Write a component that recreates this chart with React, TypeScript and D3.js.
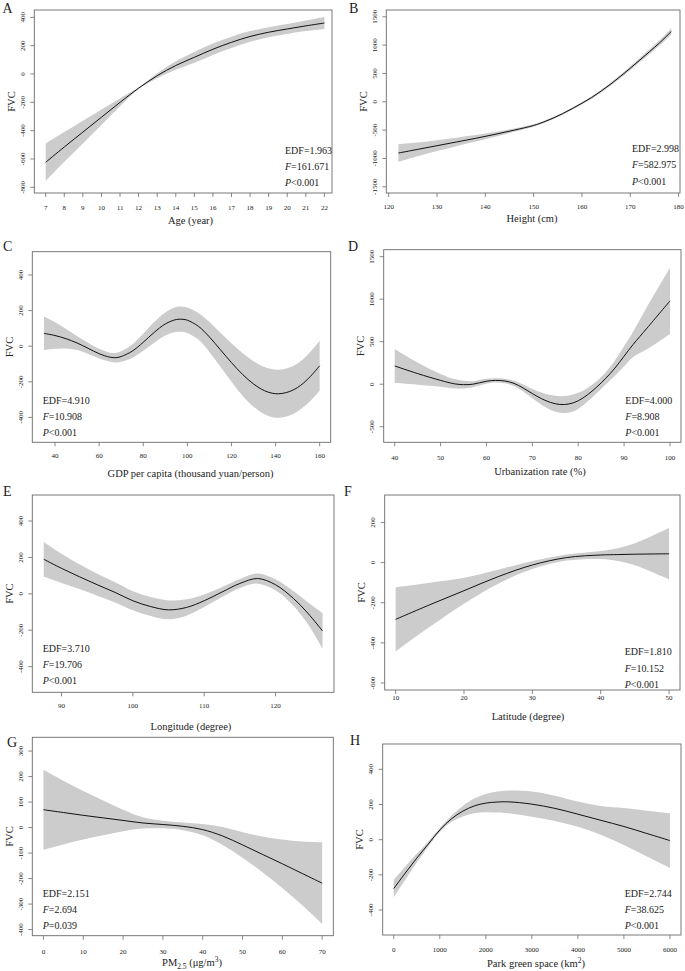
import React from "react";
import * as d3 from "d3";

const FONT = "'Liberation Serif', 'Times New Roman', Times, serif";

// ---------- Panel A: Age ----------
const ageX = [7, 8, 9, 10, 11, 12, 13, 14, 15, 16, 17, 18, 19, 20, 21, 22];
const ageFit = [-623, -515, -410, -305, -200, -100, -12, 60, 118, 175, 224, 265, 295, 318, 340, 360];
const ageSe = [132, 105, 80, 55, 28, 6, 18, 30, 38, 40, 40, 38, 36, 35, 37, 42];
const ageXTicks = [7, 8, 9, 10, 11, 12, 13, 14, 15, 16, 17, 18, 19, 20, 21, 22];
const ageYTicks = [-800, -600, -400, -200, 0, 200, 400];

// ---------- Panel B: Height ----------
const heightX = [122, 126, 130, 134, 138, 142, 146, 150, 152, 154, 156, 158, 160, 162, 164, 166, 168, 170, 172, 174, 176, 178.5];
const heightFit = [-905, -840, -775, -710, -645, -575, -500, -418, -360, -290, -210, -120, -25, 75, 190, 315, 450, 592, 738, 885, 1035, 1240];
const heightSe = [155, 120, 95, 75, 57, 42, 30, 22, 21, 20, 20, 20, 22, 24, 26, 28, 31, 35, 38, 42, 47, 55];
const heightXTicks = [120, 130, 140, 150, 160, 170, 180];
const heightYTicks = [-1500, -1000, -500, 0, 500, 1000, 1500];

// ---------- Panel C: GDP ----------
const gdpX = [35, 40, 45, 50, 55, 60, 65, 68, 70, 75, 80, 85, 90, 95, 98, 100, 105, 110, 115, 120, 125, 130, 135, 140, 145, 150, 155, 160];
const gdpFit = [72, 60, 42, 18, -12, -42, -62, -64, -58, -28, 22, 78, 125, 150, 151, 146, 112, 52, -20, -92, -158, -212, -250, -267, -260, -232, -180, -110];
const gdpSe = [95, 75, 55, 40, 32, 27, 25, 27, 30, 38, 48, 58, 65, 70, 71, 72, 75, 85, 95, 108, 120, 128, 133, 135, 135, 135, 137, 140];
const gdpXTicks = [40, 60, 80, 100, 120, 140, 160];
const gdpYTicks = [-400, -200, 0, 200, 400];

// ---------- Panel D: Urbanization ----------
const urbX = [40, 45, 50, 53, 55, 57, 60, 62, 64, 66, 68, 70, 72, 74, 76, 78, 80, 82, 84, 86, 88, 90, 92, 95, 100];
const urbFit = [215, 125, 45, 5, -5, 0, 35, 45, 38, 10, -45, -110, -170, -215, -238, -232, -195, -125, -35, 70, 190, 330, 470, 660, 980];
const urbSe = [200, 130, 75, 55, 45, 36, 28, 25, 27, 32, 42, 55, 72, 88, 97, 100, 95, 82, 70, 72, 90, 120, 150, 250, 390];
const urbXTicks = [40, 50, 60, 70, 80, 90, 100];
const urbYTicks = [-500, 0, 500, 1000, 1500];

// ---------- Panel E: Longitude ----------
const lonX = [87.5, 90, 92.5, 95, 97.5, 100, 102.5, 105, 107.5, 110, 112.5, 115, 117.5, 120, 122.5, 124.5, 126.6];
const lonFit = [190, 140, 94, 50, 8, -38, -70, -88, -75, -38, 10, 57, 84, 50, -25, -105, -204];
const lonSe = [95, 80, 68, 60, 55, 52, 52, 52, 45, 35, 28, 25, 28, 30, 40, 60, 98];
const lonXTicks = [90, 100, 110, 120];
const lonYTicks = [-400, -200, 0, 200, 400];

// ---------- Panel F: Latitude ----------
const latX = [10, 15, 20, 25, 30, 35, 40, 42.5, 45, 47.5, 50];
const latFit = [-283, -210, -140, -70, -12, 25, 38, 40, 42, 43, 44];
const latSe = [160, 110, 65, 35, 20, 15, 20, 32, 55, 90, 128];
const latXTicks = [10, 20, 30, 40, 50];
const latYTicks = [-600, -400, -200, 0, 200];

// ---------- Panel G: PM2.5 ----------
const pmX = [0, 5, 10, 15, 20, 25, 30, 35, 40, 45, 50, 55, 60, 65, 70];
const pmFit = [70, 59, 48, 38, 28, 18, 12, 5, -8, -33, -68, -105, -142, -180, -218];
const pmSe = [157, 125, 95, 68, 42, 22, 15, 15, 22, 35, 50, 70, 95, 125, 160];
const pmXTicks = [0, 10, 20, 30, 40, 50, 60, 70];
const pmYTicks = [-400, -300, -200, -100, 0, 100, 200, 300];

// ---------- Panel H: Park green space ----------
const parkX = [0, 250, 500, 750, 1000, 1250, 1500, 1750, 2000, 2250, 2500, 3000, 3500, 4000, 4500, 5000, 5500, 6000];
const parkFit = [-278, -190, -105, -25, 55, 118, 162, 192, 208, 214, 215, 202, 178, 145, 110, 75, 35, -5];
const parkSe = [50, 38, 25, 15, 12, 18, 30, 42, 52, 60, 65, 72, 72, 72, 82, 105, 130, 155];
const parkXTicks = [0, 1000, 2000, 3000, 4000, 5000, 6000];
const parkYTicks = [-400, -200, 0, 200, 400];

// ---------- Labels / statistics ----------
const panelLetters = ["A", "B", "C", "D", "E", "F", "G", "H"];
const edfValues = ["1.963", "2.998", "4.910", "4.000", "3.710", "1.810", "2.151", "2.744"];
const fValues = ["161.671", "582.975", "10.908", "8.908", "19.706", "10.152", "2.694", "38.625"];
const pValues = ["<0.001", "<0.001", "<0.001", "<0.001", "<0.001", "<0.001", "=0.039", "<0.001"];
type Seg = { t: string; s?: "sub" | "sup" };
const xTitles: Seg[][] = [
  [{ t: "Age (year)" }],
  [{ t: "Height (cm)" }],
  [{ t: "GDP per capita (thousand yuan/person)" }],
  [{ t: "Urbanization rate (%)" }],
  [{ t: "Longitude (degree)" }],
  [{ t: "Latitude (degree)" }],
  [{ t: "PM" }, { t: "2.5", s: "sub" }, { t: " (μg/m" }, { t: "3", s: "sup" }, { t: ")" }],
  [{ t: "Park green space (km" }, { t: "2", s: "sup" }, { t: ")" }],
];
const yTitle = "FVC";

const seriesX = [ageX, heightX, gdpX, urbX, lonX, latX, pmX, parkX];
const seriesFit = [ageFit, heightFit, gdpFit, urbFit, lonFit, latFit, pmFit, parkFit];
const seriesSe = [ageSe, heightSe, gdpSe, urbSe, lonSe, latSe, pmSe, parkSe];
const xTickSets = [ageXTicks, heightXTicks, gdpXTicks, urbXTicks, lonXTicks, latXTicks, pmXTicks, parkXTicks];
const yTickSets = [ageYTicks, heightYTicks, gdpYTicks, urbYTicks, lonYTicks, latYTicks, pmYTicks, parkYTicks];

// ---------- Layout (positions only) ----------
const layout = [
  { L: 34.3, R: 332, T: 10, B: 193, xDom: [6.386, 22.41], yDom: [-840, 452], lx: 2.5, ly: 13, tx: 190.5, tickY: 210, titleY: 224, sx: 285, sy: 153.5 },
  { L: 386.3, R: 680, T: 10, B: 193, xDom: [119.5, 180.3], yDom: [-1610, 1620], lx: 349, ly: 13, tx: 532, tickY: 208.6, titleY: 222, sx: 632, sy: 152 },
  { L: 32.3, R: 330.7, T: 251.7, B: 442.3, xDom: [29.7, 165], yDom: [-540, 531], lx: 3, ly: 251, tx: 190.5, tickY: 458.3, titleY: 476.5, sx: 42.7, sy: 403.5 },
  { L: 383.7, R: 681, T: 249.7, B: 442.3, xDom: [37.6, 102.4], yDom: [-683, 1582], lx: 348, ly: 251, tx: 540, tickY: 460, titleY: 474.5, sx: 625.3, sy: 403.5 },
  { L: 32.3, R: 334, T: 495, B: 692.3, xDom: [85.9, 128.2], yDom: [-541, 543], lx: 3, ly: 496, tx: 191, tickY: 708, titleY: 730, sx: 42.7, sy: 651.8 },
  { L: 384.7, R: 680, T: 495, B: 690, xDom: [8.4, 51.6], yDom: [-635, 337], lx: 344, ly: 496, tx: 528, tickY: 700, titleY: 720, sx: 624.7, sy: 655.2 },
  { L: 32.3, R: 333.3, T: 737.3, B: 935.7, xDom: [-2.8, 72.8], yDom: [-424, 354], lx: 7, ly: 747, tx: 192, tickY: 954, titleY: 966, sx: 42.7, sy: 896.8 },
  { L: 382.7, R: 681, T: 744, B: 935, xDom: [-240, 6240], yDom: [-542, 544], lx: 350, ly: 745, tx: 536, tickY: 951.5, titleY: 967, sx: 624.7, sy: 896.8 },
];

const BOX = "#6a6a6a";
const TEXT = "#222";

function TitleText({ segs, x, y }: { segs: Seg[]; x: number; y: number }) {
  let cur = 0;
  const spans = segs.map((sg, i) => {
    const target = sg.s === "sub" ? 3 : sg.s === "sup" ? -4 : 0;
    const dy = target - cur;
    cur = target;
    return (
      <tspan key={i} dy={dy} fontSize={sg.s ? 7.5 : 10.5}>
        {sg.t}
      </tspan>
    );
  });
  return (
    <text x={x} y={y} textAnchor="middle" fontFamily={FONT} fontSize={10.5} fill={TEXT}>
      {spans}
    </text>
  );
}

function Panel({ i }: { i: number }) {
  const lay = layout[i];
  const xs = seriesX[i];
  const fit = seriesFit[i];
  const se = seriesSe[i];
  const x = d3.scaleLinear().domain(lay.xDom).range([lay.L, lay.R]);
  const y = d3.scaleLinear().domain(lay.yDom).range([lay.B, lay.T]);
  const pts = xs.map((v, k) => ({ x: v, f: fit[k], s: se[k] }));
  const area = d3
    .area<any>()
    .x((d) => x(d.x))
    .y0((d) => y(d.f - d.s))
    .y1((d) => y(d.f + d.s))
    .curve(d3.curveCatmullRom.alpha(0.5));
  const line = d3
    .line<any>()
    .x((d) => x(d.x))
    .y((d) => y(d.f))
    .curve(d3.curveCatmullRom.alpha(0.5));
  const clipId = `clip-${i}`;
  const midY = (lay.T + lay.B) / 2;
  return (
    <g>
      <defs>
        <clipPath id={clipId}>
          <rect x={lay.L} y={lay.T} width={lay.R - lay.L} height={lay.B - lay.T} />
        </clipPath>
      </defs>
      <g clipPath={`url(#${clipId})`}>
        <path d={area(pts) || ""} fill="#cccccc" stroke="none" />
        <path d={line(pts) || ""} fill="none" stroke="#111" strokeWidth={1} />
      </g>
      <rect x={lay.L} y={lay.T} width={lay.R - lay.L} height={lay.B - lay.T} fill="none" stroke={BOX} strokeWidth={0.9} />
      {yTickSets[i].map((t) => (
        <g key={"y" + t}>
          <line x1={lay.L} x2={lay.L - 4} y1={y(t)} y2={y(t)} stroke={BOX} strokeWidth={0.8} />
          <text
            transform={`translate(${lay.L - 11.5},${y(t)}) rotate(-90)`}
            textAnchor="middle"
            dominantBaseline="central"
            fontFamily={FONT}
            fontSize={7}
            fill={TEXT}
          >
            {t}
          </text>
        </g>
      ))}
      {xTickSets[i].map((t) => (
        <g key={"x" + t}>
          <line x1={x(t)} x2={x(t)} y1={lay.B} y2={lay.B + 4} stroke={BOX} strokeWidth={0.8} />
          <text x={x(t)} y={lay.tickY} textAnchor="middle" fontFamily={FONT} fontSize={7} fill={TEXT}>
            {t}
          </text>
        </g>
      ))}
      <TitleText segs={xTitles[i]} x={lay.tx} y={lay.titleY} />
      <text
        transform={`translate(${lay.L - 23},${midY}) rotate(-90)`}
        textAnchor="middle"
        dominantBaseline="central"
        fontFamily={FONT}
        fontSize={10.5}
        fill={TEXT}
      >
        {yTitle}
      </text>
      <text x={lay.lx} y={lay.ly} fontFamily={FONT} fontSize={14} fill={TEXT}>
        {panelLetters[i]}
      </text>
      <g fontFamily={FONT} fontSize={10} fill={TEXT}>
        <text x={lay.sx} y={lay.sy}>EDF={edfValues[i]}</text>
        <text x={lay.sx} y={lay.sy + 16.3}>
          <tspan fontStyle="italic">F</tspan>={fValues[i]}
        </text>
        <text x={lay.sx} y={lay.sy + 32.6}>
          <tspan fontStyle="italic">P</tspan>
          {pValues[i]}
        </text>
      </g>
    </g>
  );
}

export default function App() {
  return (
    <svg
      width={685}
      height={971}
      viewBox="0 0 685 971"
      style={{ position: "absolute", left: 0, top: 0, background: "#fff" }}
    >
      <rect x={0} y={0} width={685} height={971} fill="#fff" />
      {layout.map((_, i) => (
        <Panel key={i} i={i} />
      ))}
    </svg>
  );
}
